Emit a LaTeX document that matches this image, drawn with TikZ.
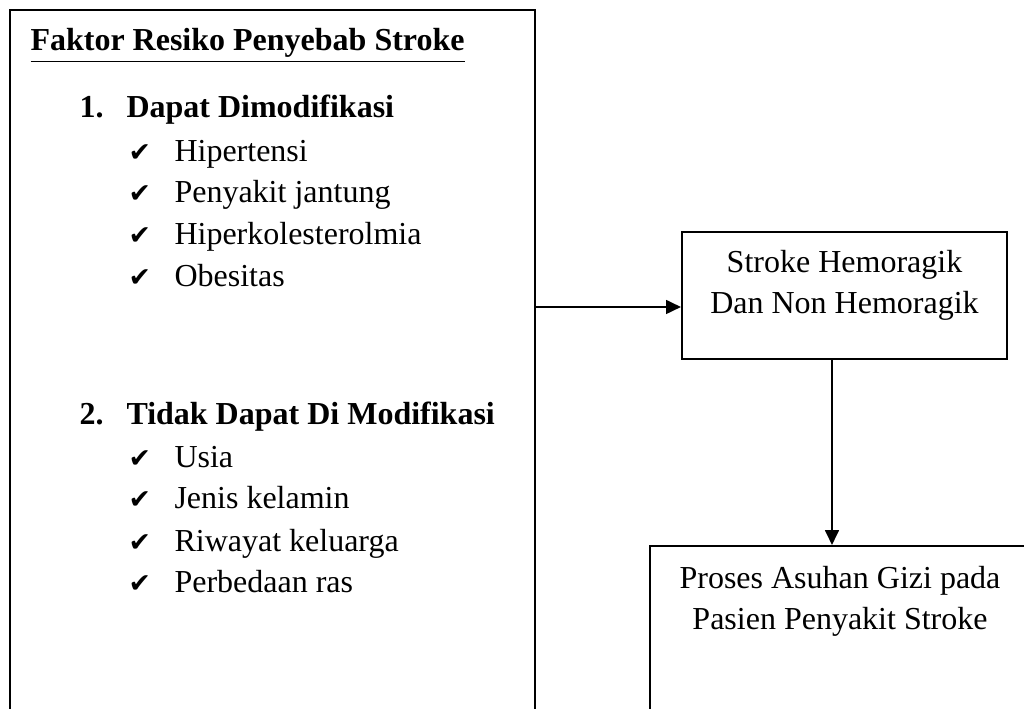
\documentclass[tikz,border=0pt]{standalone}
\usepackage{fontspec}
\setmainfont{Liberation Serif}
\newfontfamily\cekfont{DejaVu Sans}
\newcommand{\cek}{{\cekfont\fontsize{10}{10}\selectfont ✔}}
\usetikzlibrary{arrows.meta, positioning, calc}

\begin{document}
\begin{tikzpicture}[x=0.375pt, y=-0.375pt,
    every node/.style={font=\fontsize{12}{15.4}\selectfont, inner sep=0pt},
    box/.style={draw, line width=0.75pt},
    flow/.style={-{Triangle[length=5.6pt, width=5.2pt]}, line width=0.75pt},
    head/.style={anchor=base west, font=\fontsize{12}{15.4}\selectfont\bfseries},
    item/.style={anchor=base west}]

    \useasboundingbox (0,0) rectangle (1024,709);
    \clip (0,0) rectangle (1024,709);

    % --- Kotak faktor resiko ---
    \node[box, minimum width=196.9pt, minimum height=270pt] (faktor) at (272.5,370) {};
    \node[head] (judul) at (30,51) {\underline{Faktor Resiko Penyebab Stroke}};

    % Dapat dimodifikasi
    \node[head] (no1) at (79,118) {1.};
    \node[head] (modif) at (126,118) {Dapat Dimodifikasi};
    \node[item] (cek1) at (128,162) {\cek};
    \node[item] (hipertensi) at (174,162) {Hipertensi};
    \node[item] (cek2) at (128,203) {\cek};
    \node[item] (jantung) at (174,203) {Penyakit jantung};
    \node[item] (cek3) at (128,245) {\cek};
    \node[item] (kolesterol) at (174,245) {Hiperkolesterolmia};
    \node[item] (cek4) at (128,287) {\cek};
    \node[item] (obesitas) at (174,287) {Obesitas};

    % Tidak dapat dimodifikasi
    \node[head] (no2) at (79,425) {2.};
    \node[head] (tidakmodif) at (126,425) {Tidak Dapat Di Modifikasi};
    \node[item] (cek5) at (128,468) {\cek};
    \node[item] (usia) at (174,468) {Usia};
    \node[item] (cek6) at (128,509) {\cek};
    \node[item] (kelamin) at (174,509) {Jenis kelamin};
    \node[item] (cek7) at (128,552) {\cek};
    \node[item] (keluarga) at (174,552) {Riwayat keluarga};
    \node[item] (cek8) at (128,593) {\cek};
    \node[item] (ras) at (174,593) {Perbedaan ras};

    % --- Kotak jenis stroke ---
    \node[box, minimum width=121.9pt, minimum height=47.6pt] (jenis) at (844.5,295.5) {};
    \node[align=center, anchor=north] (jenisteks) at (844.5,250) {Stroke Hemoragik\\Dan Non Hemoragik};

    % --- Kotak asuhan gizi ---
    \node[box, minimum width=142.5pt, minimum height=75pt] (asuhan) at (840,646) {};
    \node[align=center, anchor=north] (asuhanteks) at (840,566) {Proses Asuhan Gizi pada\\Pasien Penyakit Stroke};

    % --- Panah ---
    \coordinate (masuk) at ($(jenis.west)+(0,11.5)$);
    \draw[flow] (faktor.east |- masuk) -- (masuk);
    \coordinate (keluar) at ($(jenis.south)+(-12.5,0)$);
    \draw[flow] (keluar) -- (keluar |- asuhan.north);
\end{tikzpicture}
\end{document}
